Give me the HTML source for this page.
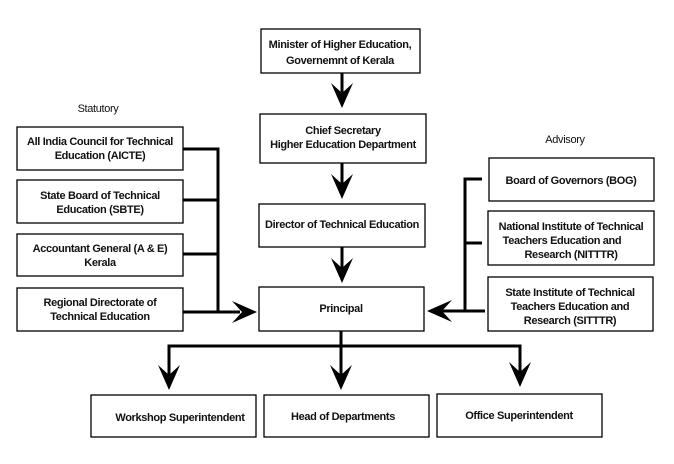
<!DOCTYPE html>
<html><head><meta charset="utf-8"><style>
body{margin:0;background:#fff;width:674px;height:464px;overflow:hidden}
svg{display:block}
text{font-family:"Liberation Sans Narrow","Liberation Sans",Arial,sans-serif;font-size:11px;font-weight:bold;fill:#111;text-anchor:middle;letter-spacing:-0.35px}
</style></head><body>
<svg width="674" height="464" viewBox="0 0 674 464">
<defs>
<path id="ad" d="M0,0 L-11,-25 L0,-15 L11,-25 Z" fill="#000"/>
</defs>
<g fill="#fff" stroke="#000" stroke-width="1.3">
<rect x="261" y="29" width="159" height="44"/>
<rect x="260" y="114" width="166" height="49"/>
<rect x="259" y="204" width="166" height="43"/>
<rect x="259" y="287" width="165" height="44"/>
<rect x="17" y="127" width="166" height="43"/>
<rect x="17" y="180" width="166" height="43"/>
<rect x="17" y="234" width="166" height="42"/>
<rect x="17" y="288" width="166" height="43"/>
<rect x="489" y="158" width="165" height="43"/>
<rect x="488" y="211" width="166" height="54"/>
<rect x="488" y="277" width="165" height="54"/>
<rect x="91" y="395" width="165" height="42"/>
<rect x="264" y="395" width="165" height="42"/>
<rect x="437" y="394" width="165" height="43"/>
</g>
<g stroke="#000" stroke-width="3" fill="none">
<path d="M342,73 V100 M342,163 V190 M342,247 V274"/>
<path d="M183,149 H218 V312 M183,200 H218 M183,254 H218 M183,312 H240"/>
<path d="M482,179 H465 V311 M482,243 H465 M485,311 H440"/>
<path d="M341,331 V380 M169,378 V346 H520 V378"/>
</g>
<use href="#ad" transform="translate(342,108)"/>
<use href="#ad" transform="translate(342,199)"/>
<use href="#ad" transform="translate(342,283)"/>
<use href="#ad" transform="translate(257,312) rotate(-90)"/>
<use href="#ad" transform="translate(427,311) rotate(90)"/>
<use href="#ad" transform="translate(169,390)"/>
<use href="#ad" transform="translate(341,390)"/>
<use href="#ad" transform="translate(520,387)"/>
<text x="340" y="48">Minister of Higher Education,</text>
<text x="340" y="64">Governemnt of Kerala</text>
<text x="343" y="134">Chief Secretary</text>
<text x="343" y="148">Higher Education Department</text>
<text x="342" y="228">Director of Technical Education</text>
<text x="341" y="312">Principal</text>
<text x="100" y="145">All India Council for Technical</text>
<text x="100" y="159">Education (AICTE)</text>
<text x="100" y="199">State Board of Technical</text>
<text x="100" y="213">Education (SBTE)</text>
<text x="100" y="252">Accountant General (A &amp; E)</text>
<text x="100" y="266">Kerala</text>
<text x="100" y="306">Regional Directorate of</text>
<text x="100" y="320">Technical Education</text>
<text x="98" y="112" style="font-weight:normal">Statutory</text>
<text x="565" y="143" style="font-weight:normal">Advisory</text>
<text x="571" y="184">Board of Governors (BOG)</text>
<text x="571" y="230">National Institute of Technical</text>
<text x="562" y="244">Teachers Education and</text>
<text x="571" y="258">Research (NITTTR)</text>
<text x="570" y="296">State Institute of Technical</text>
<text x="570" y="310">Teachers Education and</text>
<text x="570" y="324">Research (SITTTR)</text>
<text x="180" y="421">Workshop Superintendent</text>
<text x="343" y="420">Head of Departments</text>
<text x="519" y="419">Office Superintendent</text>
</svg>
</body></html>
